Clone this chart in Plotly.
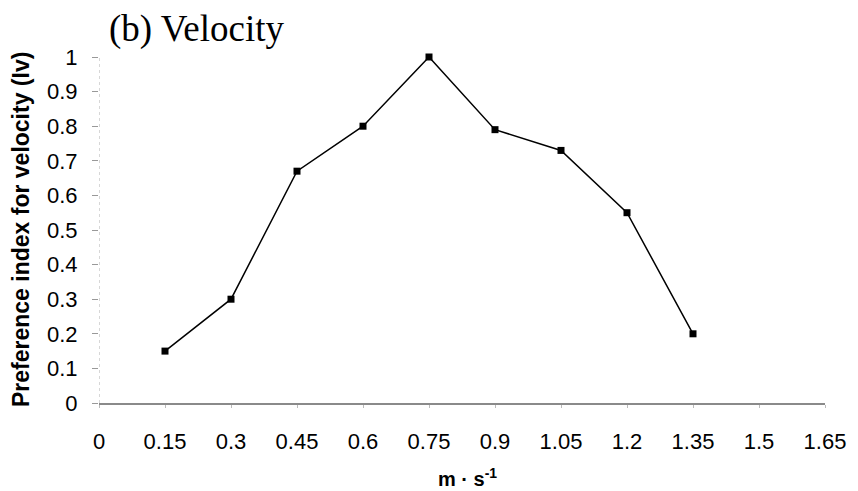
import plotly.graph_objects as go

# Flow velocity classes (m/s) and preference index for velocity
velocity = [0.15, 0.30, 0.45, 0.60, 0.75, 0.90, 1.05, 1.20, 1.35]
preference = [0.15, 0.30, 0.67, 0.80, 1.00, 0.79, 0.73, 0.55, 0.20]

x_tickvals = [0, 0.15, 0.3, 0.45, 0.6, 0.75, 0.9, 1.05, 1.2, 1.35, 1.5, 1.65]
x_ticktext = ["0", "0.15", "0.3", "0.45", "0.6", "0.75", "0.9", "1.05", "1.2", "1.35", "1.5", "1.65"]
y_tickvals = [0, 0.1, 0.2, 0.3, 0.4, 0.5, 0.6, 0.7, 0.8, 0.9, 1.0]
y_ticktext = ["0", "0.1", "0.2", "0.3", "0.4", "0.5", "0.6", "0.7", "0.8", "0.9", "1"]

W, H = 858, 491
ML, MR, MT, MB = 99, 28, 57, 88

fig = go.Figure()
fig.add_trace(go.Scatter(
    x=velocity, y=preference,
    mode="lines+markers",
    line=dict(color="black", width=1.5),
    marker=dict(symbol="square", size=7, color="black"),
    cliponaxis=False,
    showlegend=False,
))

tick_font = dict(family="Liberation Sans, Arial, sans-serif", size=22, color="black")

fig.update_layout(
    width=W, height=H,
    margin=dict(l=ML, r=MR, t=MT, b=MB),
    paper_bgcolor="white", plot_bgcolor="white",
    xaxis=dict(
        range=[0, 1.65], tickvals=x_tickvals, ticktext=x_ticktext,
        showgrid=False, zeroline=False,
        showline=True, linecolor="#8a8a8a", linewidth=1.5,
        ticks="outside", ticklen=3, tickcolor="#bbbbbb", tickwidth=1,
        ticklabelstandoff=15, tickfont=tick_font,
    ),
    yaxis=dict(
        range=[0, 1], tickvals=y_tickvals, ticktext=y_ticktext,
        showgrid=False, zeroline=False, showline=False,
        ticks="outside", ticklen=6, tickcolor="#999999", tickwidth=1,
        ticklabelstandoff=10, tickfont=tick_font,
    ),
    shapes=[dict(
        type="line", xref="x", yref="paper", x0=0, x1=0, y0=0, y1=1,
        line=dict(color="#b0b0b0", width=1, dash="dot"), layer="below",
    )],
    annotations=[
        dict(text="(b) Velocity", xref="paper", yref="paper", x=0, y=1,
             xanchor="left", yanchor="middle", xshift=8, yshift=28,
             showarrow=False,
             font=dict(family="Liberation Serif, Times New Roman, serif", size=37, color="black")),
        dict(text="<b>Preference index for velocity (Iv)</b>", xref="paper", yref="paper",
             x=0, y=0.5, xanchor="center", yanchor="middle", xshift=-(ML - 21),
             textangle=-90, showarrow=False,
             font=dict(family="Liberation Sans, Arial, sans-serif", size=23, color="black")),
        dict(text="<b>m · s<sup>-1</sup></b>", xref="paper", yref="paper",
             x=(470 - ML) / (W - ML - MR), y=0, xanchor="center", yanchor="middle",
             yshift=-(477 - (H - MB)), showarrow=False,
             font=dict(family="Liberation Sans, Arial, sans-serif", size=20, color="black")),
    ],
)

fig.write_html("out.html")
